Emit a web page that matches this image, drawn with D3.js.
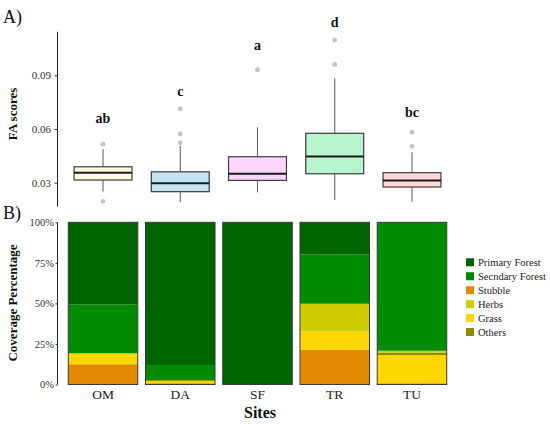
<!DOCTYPE html>
<html><head><meta charset="utf-8">
<script src="https://cdn.jsdelivr.net/npm/d3@7"></script>
<style>body{margin:0;background:#fff}svg{display:block}</style>
</head><body>
<svg id="c" width="550" height="424" font-family="'Liberation Serif', 'Times New Roman', serif"></svg>
<script>
const sites = ["OM","DA","SF","TR","TU"];
// boxplot stats per site: [lowerWhisker, Q1, median, Q3, upperWhisker]
const boxStats = [
  [0.0251, 0.0315, 0.0356, 0.0389, 0.0488],
  [0.0192, 0.0250, 0.0297, 0.0361, 0.0505],
  [0.0246, 0.0313, 0.0350, 0.0445, 0.0610],
  [0.0203, 0.0350, 0.0447, 0.0576, 0.0883],
  [0.0194, 0.0276, 0.0313, 0.0356, 0.0470]
];
const outliers = [
  [0.0515, 0.0196],
  [0.0523, 0.0572, 0.0712],
  [0.0931],
  [0.0961, 0.1097],
  [0.0503, 0.0582]
];
const letters = ["ab","c","a","d","bc"];
const letterY = [0.0661, 0.0814, 0.1069, 0.1199, 0.0697];
const boxFills = ["#fffbdc","#c6e3f4","#fdd6fd","#b8f5cc","#fdd7da"];
const faTicks = [0.03, 0.06, 0.09];

// coverage (%) per category, bottom-to-top stacking
const stackOrder = ["Stubble","Grass","Others","Herbs","Secondary Forest","Primary Forest"];
const stubble   = [12.5, 0.8, 0, 21.4, 0.8];
const grass     = [6.3, 1.4, 0, 11.3, 17.4];
const others    = [0, 0.6, 0, 0, 1.4];
const herbs     = [0.5, 0, 0, 17.1, 1.2];
const secondary = [30.0, 9.2, 0, 30.4, 79.2];
const primary   = [50.7, 88.0, 100, 19.8, 0];
const legendLabels = ["Primary Forest","Secndary Forest","Stubble","Herbs","Grass","Others"];
const legendKeys = ["Primary Forest","Secondary Forest","Stubble","Herbs","Grass","Others"];
const coverTicks = [0, 25, 50, 75, 100];
const catColors = {
  "Primary Forest":"#006400",
  "Secondary Forest":"#008b00",
  "Stubble":"#e38a00",
  "Herbs":"#cdcd00",
  "Grass":"#ffd700",
  "Others":"#8b8b00"
};
const SERIF = "'Liberation Serif', 'Times New Roman', serif";

const svg = d3.select("#c");
const x = d3.scaleBand().domain(sites).range([64.4, 450.6]).paddingInner(0.1).paddingOuter(0.05);
const step = x.step();

// ---------- Panel A ----------
const yA = d3.scaleLinear().domain([0.0166, 0.1143]).range([206.7, 31.8]);
const gA = svg.append("g");
gA.append("line").attr("x1",57.5).attr("x2",57.5).attr("y1",yA.range()[1]).attr("y2",yA.range()[0]).attr("stroke","#222").attr("stroke-width",1);
const axA = gA.append("g").attr("transform","translate(57.5,0)")
  .call(d3.axisLeft(yA).tickValues(faTicks).tickFormat(d3.format(".2f")).tickSize(3).tickSizeOuter(0));
axA.attr("font-family",SERIF);
axA.select(".domain").remove();
axA.selectAll("line").attr("stroke","#333");
axA.selectAll("text").attr("font-size",11).attr("fill","#333").attr("x",-6.5);

const bw = step*0.75;
sites.forEach((s,i)=>{
  const cx = x(s) + x.bandwidth()/2;
  const [lw,q1,md,q3,uw] = boxStats[i];
  gA.append("line").attr("x1",cx).attr("x2",cx).attr("y1",yA(uw)).attr("y2",yA(q3)).attr("stroke","#666").attr("stroke-width",1.1);
  gA.append("line").attr("x1",cx).attr("x2",cx).attr("y1",yA(q1)).attr("y2",yA(lw)).attr("stroke","#666").attr("stroke-width",1.1);
  gA.append("rect").attr("x",cx-bw/2).attr("y",yA(q3)).attr("width",bw).attr("height",yA(q1)-yA(q3))
    .attr("fill",boxFills[i]).attr("stroke","#3c3c3c").attr("stroke-width",1.2);
  gA.append("line").attr("x1",cx-bw/2).attr("x2",cx+bw/2).attr("y1",yA(md)).attr("y2",yA(md)).attr("stroke","#1a1a1a").attr("stroke-width",2);
  outliers[i].forEach(o=>{
    gA.append("circle").attr("cx",cx).attr("cy",yA(o)).attr("r",2.4).attr("fill","#c4c4c4");
  });
  gA.append("text").attr("x",cx).attr("y",yA(letterY[i])).attr("dy","0.35em").attr("text-anchor","middle")
    .attr("font-size",14).attr("font-weight","bold").attr("fill","#111").text(letters[i]);
});
svg.append("text").attr("x",3).attr("y",23).attr("font-size",18).attr("fill","#111").text("A)");
svg.append("text").attr("transform","translate(17,114) rotate(-90)").attr("text-anchor","middle")
  .attr("font-size",13).attr("font-weight","bold").attr("fill","#111").text("FA scores");

// ---------- Panel B ----------
const yB = d3.scaleLinear().domain([0,100]).range([384.5, 222.3]);
const gB = svg.append("g");
const rows = sites.map((s,i)=>({site:s, "Stubble":stubble[i], "Grass":grass[i], "Others":others[i], "Herbs":herbs[i], "Secondary Forest":secondary[i], "Primary Forest":primary[i]}));
const stacked = d3.stack().keys(stackOrder)(rows);
stacked.forEach(layer=>{
  gB.selectAll(null).data(layer).enter().append("rect")
    .attr("x",d=>x(d.data.site)).attr("width",x.bandwidth())
    .attr("y",d=>yB(d[1])).attr("height",d=>Math.max(0,yB(d[0])-yB(d[1])))
    .attr("fill",catColors[layer.key]);
});
gB.selectAll(null).data(sites).enter().append("rect")
  .attr("x",d=>x(d)).attr("width",x.bandwidth()).attr("y",yB(100)).attr("height",yB(0)-yB(100))
  .attr("fill","none").attr("stroke","#3a3a3a").attr("stroke-width",1);

gB.append("line").attr("x1",57.5).attr("x2",57.5).attr("y1",yB(100)).attr("y2",yB(0)).attr("stroke","#222").attr("stroke-width",1);
const axB = gB.append("g").attr("transform","translate(57.5,0)")
  .call(d3.axisLeft(yB).tickValues(coverTicks).tickFormat(d=>d+"%").tickSize(2).tickSizeOuter(0));
axB.attr("font-family",SERIF);
axB.select(".domain").remove();
axB.selectAll("line").attr("stroke","#333");
axB.selectAll("text").attr("font-size",10.5).attr("fill","#333").attr("x",-3.5);

const axX = gB.append("g").attr("transform",`translate(0,${yB(0)})`)
  .call(d3.axisBottom(x).tickSize(0).tickPadding(5));
axX.attr("font-family",SERIF);
axX.select(".domain").remove();
axX.selectAll("text").attr("font-size",13.5).attr("fill","#222");

svg.append("text").attr("x",3).attr("y",219).attr("font-size",18).attr("fill","#111").text("B)");
svg.append("text").attr("transform","translate(17,303) rotate(-90)").attr("text-anchor","middle")
  .attr("font-size",13).attr("font-weight","bold").attr("fill","#111").text("Coverage Percentage");
svg.append("text").attr("x",260).attr("y",418).attr("text-anchor","middle")
  .attr("font-size",16).attr("font-weight","bold").attr("fill","#111").text("Sites");

// legend
const lg = svg.append("g");
legendKeys.forEach((k,i)=>{
  const cy = 262.3 + i*13.95;
  lg.append("rect").attr("x",466).attr("y",cy-4).attr("width",8).attr("height",8).attr("fill",catColors[k]);
  lg.append("text").attr("x",478).attr("y",cy).attr("dy","0.35em").attr("font-size",10.5).attr("fill","#222").text(legendLabels[i]);
});
</script>
</body></html>
